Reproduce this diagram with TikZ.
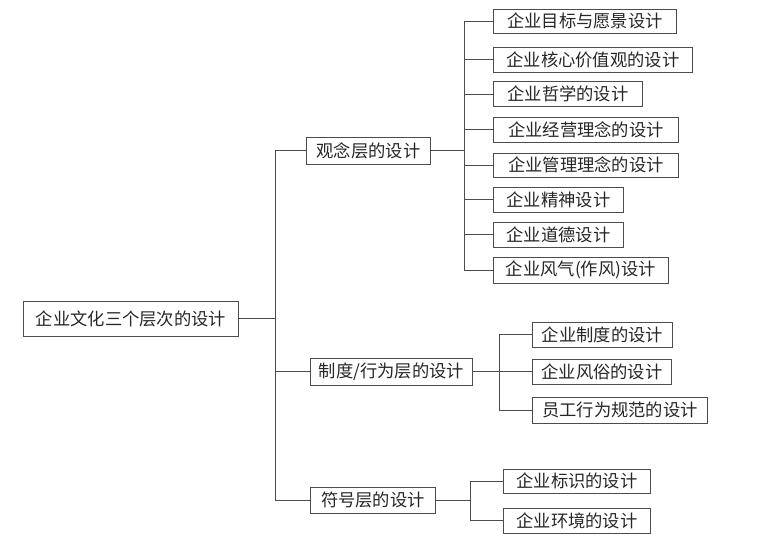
\documentclass[tikz,border=0pt]{standalone}
\usepackage{fontspec}
\newfontfamily\cjk{Noto Sans CJK SC}
\begin{document}
\begin{tikzpicture}[x=1pt,y=-1pt,
  box/.style={draw=black!70, line width=0.9pt, anchor=west, inner sep=0pt, text=black!85,
     font=\cjk\fontsize{17.3}{17.3}\selectfont, align=center},
  conn/.style={draw=black!70, line width=0.9pt}]
\useasboundingbox (0,0) rectangle (767,546);
% root
\node[box, minimum width=215, minimum height=35] (root) at (23,318.5) {企业文化三个层次的设计};
% level 1
\node[box, minimum width=124, minimum height=27] (guan) at (306,150.5) {观念层的设计};
\node[box, minimum width=162, minimum height=27] (zhi) at (310,371.5) {制度/行为层的设计};
\node[box, minimum width=125, minimum height=26] (fu) at (310,500) {符号层的设计};
% level 2 under guan
\node[box, minimum width=183, minimum height=24] (a1) at (493,21) {企业目标与愿景设计};
\node[box, minimum width=199, minimum height=25] (a2) at (493,59.5) {企业核心价值观的设计};
\node[box, minimum width=149, minimum height=25] (a3) at (493,94) {企业哲学的设计};
\node[box, minimum width=185, minimum height=25] (a4) at (493,129.5) {企业经营理念的设计};
\node[box, minimum width=185, minimum height=24] (a5) at (493,165) {企业管理理念的设计};
\node[box, minimum width=130, minimum height=25] (a6) at (493,199.5) {企业精神设计};
\node[box, minimum width=130, minimum height=25] (a7) at (493,234.5) {企业道德设计};
\node[box, minimum width=175, minimum height=26] (a8) at (493,270) {企业风气(作风)设计};
% level 2 under zhi
\node[box, minimum width=140, minimum height=25] (b1) at (532,334.5) {企业制度的设计};
\node[box, minimum width=139, minimum height=25] (b2) at (532,371.5) {企业风俗的设计};
\node[box, minimum width=175, minimum height=26] (b3) at (532,410) {员工行为规范的设计};
% level 2 under fu
\node[box, minimum width=147, minimum height=24] (c1) at (503,481) {企业标识的设计};
\node[box, minimum width=147, minimum height=25] (c2) at (503,520.5) {企业环境的设计};
% trunk
\coordinate (t0) at (275,318.5);
\draw[conn] (root.east) -- (t0);
\draw[conn] (guan.west) -| (t0);
\draw[conn] (fu.west) -| (t0);
\draw[conn] (zhi.west) -- (zhi.west -| t0);
% guan branch
\coordinate (g) at (464,150.5);
\draw[conn] (guan.east) -- (g);
\foreach \n in {a1,a8} \draw[conn] (\n.west) -| (g);
\foreach \n in {a2,a3,a4,a5,a6,a7} \draw[conn] (\n.west) -- (\n.west -| g);
% zhi branch
\coordinate (z) at (499,371.5);
\draw[conn] (zhi.east) -- (b2.west);
\foreach \n in {b1,b3} \draw[conn] (\n.west) -| (z);
% fu branch
\coordinate (f) at (470,500);
\draw[conn] (fu.east) -- (f);
\foreach \n in {c1,c2} \draw[conn] (\n.west) -| (f);
\end{tikzpicture}
\end{document}
